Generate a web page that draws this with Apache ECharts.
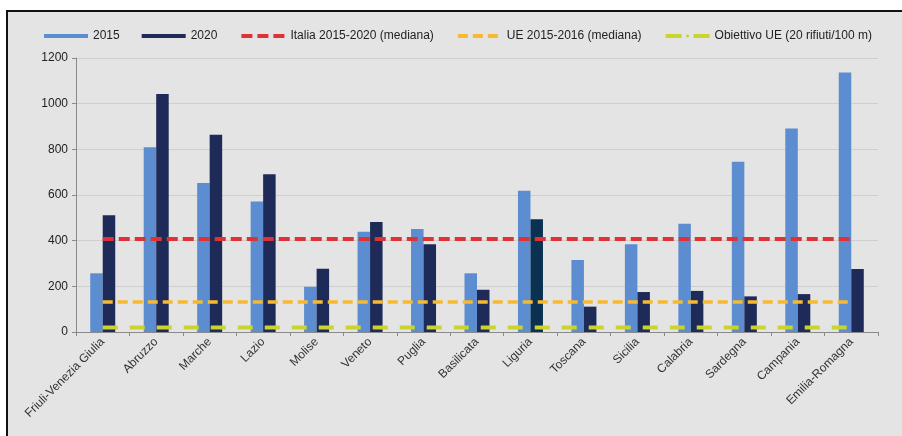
<!DOCTYPE html>
<html>
<head>
<meta charset="utf-8">
<style>
html,body{margin:0;padding:0;background:#fff;}
#c{width:902px;height:436px;}
</style>
<script src="https://cdn.jsdelivr.net/npm/echarts@6/dist/echarts.min.js"></script>
</head>
<body>
<div id="c"></div>
<script>
const categories = ["Friuli-Venezia Giulia","Abruzzo","Marche","Lazio","Molise","Veneto","Puglia","Basilicata","Liguria","Toscana","Sicilia","Calabria","Sardegna","Campania","Emilia-Romagna"];
const values2015 = [257, 809, 653, 571, 198, 439, 451, 257, 619, 315, 384, 474, 746, 891, 1136];
const values2020 = [511, 1042, 864, 691, 277, 482, 384, 185, 494, 111, 175, 180, 156, 166, 276];
const italiaMedian = 407;
const ueMedian = 131;
const obiettivoUE = 20;

const chart = echarts.init(document.getElementById('c'), null, {renderer: 'canvas'});
const font = 'Liberation Sans, Arial, sans-serif';

const data2020 = values2020.map((v, i) => categories[i] === 'Liguria'
  ? {value: v, itemStyle: {color: '#0b3150'}} : v);

chart.setOption({
  backgroundColor: '#e4e4e4',
  animation: false,
  graphic: [
    {type: 'rect', left: 0, top: 0, shape: {width: 902, height: 10}, style: {fill: '#ffffff'}, z: 100},
    {type: 'rect', left: 0, top: 0, shape: {width: 6, height: 436}, style: {fill: '#ffffff'}, z: 100},
    {type: 'line', shape: {x1: 6, y1: 11, x2: 902, y2: 11}, style: {stroke: '#111', lineWidth: 2}, z: 101},
    {type: 'line', shape: {x1: 7, y1: 10, x2: 7, y2: 436}, style: {stroke: '#111', lineWidth: 2}, z: 101}
  ],
  legend: {
    top: 25,
    left: 39,
    itemGap: 22,
    itemWidth: 44,
    itemHeight: 4,
    textStyle: {fontFamily: font, fontSize: 12, color: '#222'},
    data: [
      {name: '2015', icon: 'rect'},
      {name: '2020', icon: 'rect'},
      {name: 'Italia 2015-2020 (mediana)', lineStyle: {width: 4}},
      {name: 'UE 2015-2016 (mediana)', lineStyle: {width: 4}},
      {name: 'Obiettivo UE (20 rifiuti/100 m)', lineStyle: {width: 4, type: [16, 12]}}
    ]
  },
  grid: {left: 76, right: 24, top: 58, bottom: 104, containLabel: false},
  xAxis: {
    type: 'category',
    data: categories,
    axisLine: {lineStyle: {color: '#8a8a8a', width: 1}},
    axisTick: {show: true, alignWithLabel: false, length: 4, lineStyle: {color: '#8a8a8a'}},
    axisLabel: {rotate: 45, interval: 0, fontFamily: font, fontSize: 12, color: '#333', margin: 8}
  },
  yAxis: {
    type: 'value',
    min: 0, max: 1200, interval: 200,
    axisLine: {show: true, lineStyle: {color: '#8a8a8a'}},
    axisTick: {show: true, length: 4, lineStyle: {color: '#8a8a8a'}},
    axisLabel: {fontFamily: font, fontSize: 12, color: '#222', margin: 8,
      formatter: v => String(v)},
    splitLine: {lineStyle: {color: '#cfcfcf', width: 1}}
  },
  series: [
    {name: '2015', type: 'bar', data: values2015, barWidth: 12.5, barGap: '0%',
     itemStyle: {color: '#5b8dd0'}},
    {name: '2020', type: 'bar', data: data2020, barWidth: 12.5, barGap: '0%',
     itemStyle: {color: '#1e2a57'}},
    {name: 'Italia 2015-2020 (mediana)', type: 'line', symbol: 'none', z: 5,
     data: categories.map(() => italiaMedian),
     lineStyle: {color: '#e03232', width: 4, type: [11, 5]}, itemStyle: {color: '#e03232'}},
    {name: 'UE 2015-2016 (mediana)', type: 'line', symbol: 'none', z: 5,
     data: categories.map(() => ueMedian),
     lineStyle: {color: '#f7b92f', width: 3.5, type: [10, 5]}, itemStyle: {color: '#f7b92f'}},
    {name: 'Obiettivo UE (20 rifiuti/100 m)', type: 'line', symbol: 'none', z: 5,
     data: categories.map(() => obiettivoUE),
     lineStyle: {color: '#c9d52e', width: 4, type: [15, 12]}, itemStyle: {color: '#c9d52e'}}
  ]
});
</script>
</body>
</html>
